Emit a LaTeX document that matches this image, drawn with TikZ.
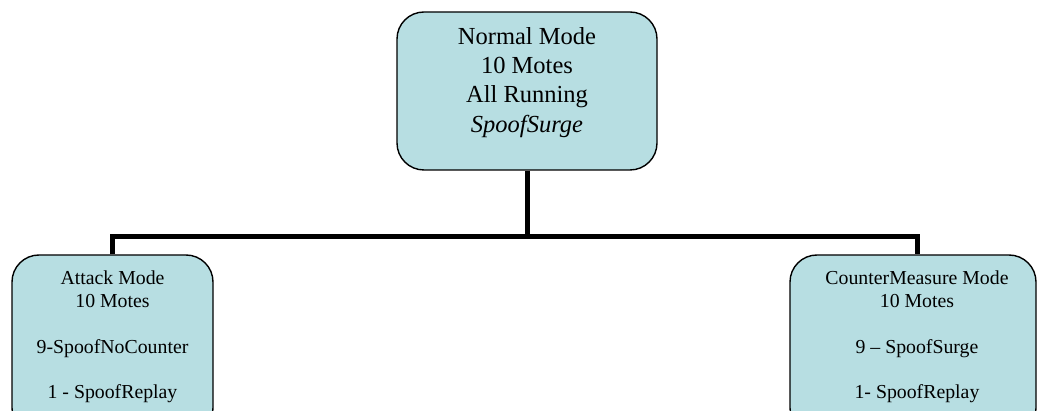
\documentclass[tikz,border=0pt]{standalone}
\usepackage{fontspec}
\setmainfont{Liberation Serif}
\definecolor{boxfill}{RGB}{183,222,226}
\begin{document}
\begin{tikzpicture}[x=1pt,y=-1pt,
  modebox/.style={draw=black,line width=1.4pt,fill=boxfill,rounded corners=27pt,inner sep=0pt,minimum width=#1},
  bigtext/.style={anchor=north,inner sep=0pt,align=center,font=\fontsize{24.5}{29.4}\selectfont},
  smalltext/.style={anchor=north,inner sep=0pt,align=center,font=\fontsize{19.8}{22.7}\selectfont},
  bus/.style={line width=5pt}]
\useasboundingbox (0,0) rectangle (1037,411);
\clip (0,0) rectangle (1037,411);
% boxes
\node[modebox=260pt,minimum height=158pt] (top) at (527,91) {};
\node[modebox=201pt,minimum height=180pt] (left) at (112.5,345) {};
\node[modebox=246pt,minimum height=180pt] (right) at (913,345) {};
% texts
\node[bigtext] (toptext) at (527,27) {Normal Mode\\10 Motes\\All Running\\\textit{SpoofSurge}};
\node[smalltext] (lefttext) at (112.5,271) {Attack Mode\\10 Motes\\\mbox{}\\9-SpoofNoCounter\\\mbox{}\\1 - SpoofReplay};
\node[smalltext] (righttext) at (917,271) {CounterMeasure Mode\\10 Motes\\\mbox{}\\9 -- SpoofSurge\\\mbox{}\\1- SpoofReplay};
% connectors
\coordinate (busmid) at (527,237);
\coordinate (rightin) at ([xshift=4pt]right.north);
\draw[bus] (top.south) -- (busmid);
\draw[bus] (left.north) |- (busmid) -| (rightin);
\end{tikzpicture}
\end{document}
